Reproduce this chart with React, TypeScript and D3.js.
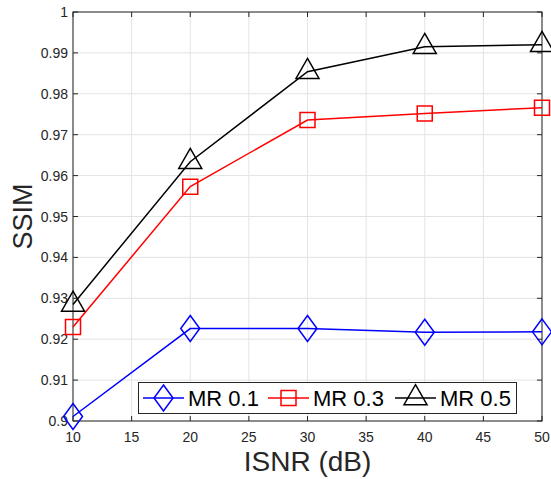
import React, { useEffect, useRef } from "react";
import * as d3 from "d3";

const isnr = [10, 20, 30, 40, 50];
const mr01 = [0.9011, 0.9226, 0.9226, 0.9217, 0.9218];
const mr03 = [0.923, 0.9573, 0.9736, 0.9752, 0.9766];
const mr05 = [0.9285, 0.9634, 0.9854, 0.9915, 0.992];
const seriesNames = ["MR 0.1", "MR 0.3", "MR 0.5"];
const xTicks = [10, 15, 20, 25, 30, 35, 40, 45, 50];
const yTicks = [0.9, 0.91, 0.92, 0.93, 0.94, 0.95, 0.96, 0.97, 0.98, 0.99, 1];

const W = 551;
const H = 479;
const margin = { top: 12, right: 9, bottom: 58, left: 73 };
const FONT = "'Liberation Sans', Arial, Helvetica, sans-serif";
const AX = "#262626";

// marker path drawers, centred on (0,0)
const markerPath = (kind: string) => {
  if (kind === "diamond") return "M0,-13L9.5,0L0,13L-9.5,0Z";
  if (kind === "square") return "M-7.5,-7.5H7.5V7.5H-7.5Z";
  return "M0,-13.3L11.5,6.7L-11.5,6.7Z";
};

export default function App() {
  const svgRef = useRef<SVGSVGElement>(null);

  useEffect(() => {
    const svg = d3.select(svgRef.current);
    svg.selectAll("*").remove();

    const x0 = margin.left;
    const x1 = W - margin.right;
    const y0 = H - margin.bottom;
    const y1 = margin.top;

    const x = d3.scaleLinear().domain([10, 50]).range([x0, x1]);
    const y = d3.scaleLinear().domain([0.9, 1]).range([y0, y1]);

    svg.append("rect").attr("width", W).attr("height", H).attr("fill", "#fff");

    // grid
    const grid = svg.append("g").attr("stroke", "#e3e3e3").attr("stroke-width", 1);
    xTicks.forEach((t) => {
      grid.append("line").attr("x1", x(t)).attr("x2", x(t)).attr("y1", y0).attr("y2", y1);
    });
    yTicks.forEach((t) => {
      grid.append("line").attr("x1", x0).attr("x2", x1).attr("y1", y(t)).attr("y2", y(t));
    });

    // box + inward ticks
    const axes = svg.append("g").attr("stroke", AX).attr("stroke-width", 1).attr("fill", "none");
    axes.append("rect").attr("x", x0).attr("y", y1).attr("width", x1 - x0).attr("height", y0 - y1);
    xTicks.forEach((t) => {
      axes.append("line").attr("x1", x(t)).attr("x2", x(t)).attr("y1", y0).attr("y2", y0 - 5);
      axes.append("line").attr("x1", x(t)).attr("x2", x(t)).attr("y1", y1).attr("y2", y1 + 5);
    });
    yTicks.forEach((t) => {
      axes.append("line").attr("x1", x0).attr("x2", x0 + 5).attr("y1", y(t)).attr("y2", y(t));
      axes.append("line").attr("x1", x1).attr("x2", x1 - 5).attr("y1", y(t)).attr("y2", y(t));
    });

    // tick labels
    svg
      .append("g")
      .selectAll("text")
      .data(xTicks)
      .join("text")
      .attr("x", (d) => x(d))
      .attr("y", y0 + 21)
      .attr("text-anchor", "middle")
      .attr("font-family", FONT)
      .attr("font-size", 14)
      .attr("fill", AX)
      .text((d) => d);

    svg
      .append("g")
      .selectAll("text")
      .data(yTicks)
      .join("text")
      .attr("x", x0 - 5)
      .attr("y", (d) => y(d) + 5)
      .attr("text-anchor", "end")
      .attr("font-family", FONT)
      .attr("font-size", 14)
      .attr("fill", AX)
      .text((d) => d3.format("")(+d.toFixed(2)));

    // axis titles
    svg
      .append("text")
      .attr("x", (x0 + x1) / 2)
      .attr("y", 471)
      .attr("text-anchor", "middle")
      .attr("font-family", FONT)
      .attr("font-size", 28)
      .attr("fill", AX)
      .text("ISNR (dB)");

    svg
      .append("text")
      .attr("transform", `translate(32,${(y0 + y1) / 2}) rotate(-90)`)
      .attr("text-anchor", "middle")
      .attr("font-family", FONT)
      .attr("font-size", 27)
      .attr("fill", AX)
      .text("SSIM");

    // series
    const series = [
      { name: seriesNames[0], values: mr01, color: "#0000ff", marker: "diamond" },
      { name: seriesNames[1], values: mr03, color: "#ff0000", marker: "square" },
      { name: seriesNames[2], values: mr05, color: "#000000", marker: "triangle" },
    ];

    const line = d3
      .line<number>()
      .x((_, i) => x(isnr[i]))
      .y((d) => y(d));

    series.forEach((s) => {
      const g = svg.append("g");
      g.append("path")
        .attr("d", line(s.values))
        .attr("fill", "none")
        .attr("stroke", s.color)
        .attr("stroke-width", 1.5);
      g.selectAll("path.m")
        .data(s.values)
        .join("path")
        .attr("class", "m")
        .attr("d", markerPath(s.marker))
        .attr("transform", (d, i) => `translate(${x(isnr[i])},${y(d)})`)
        .attr("fill", "none")
        .attr("stroke", s.color)
        .attr("stroke-width", 1.5);
    });

    // legend
    const lg = svg.append("g");
    lg.append("rect")
      .attr("x", 138.5)
      .attr("y", 382.5)
      .attr("width", 378)
      .attr("height", 31)
      .attr("fill", "#fff")
      .attr("stroke", AX)
      .attr("stroke-width", 1);
    const itemX = [143, 268, 395];
    series.forEach((s, i) => {
      const ix = itemX[i];
      const cy = 398;
      lg.append("line")
        .attr("x1", ix)
        .attr("x2", ix + 41)
        .attr("y1", cy)
        .attr("y2", cy)
        .attr("stroke", s.color)
        .attr("stroke-width", 1.5);
      lg.append("path")
        .attr("d", markerPath(s.marker))
        .attr("transform", `translate(${ix + 20.5},${cy})`)
        .attr("fill", "none")
        .attr("stroke", s.color)
        .attr("stroke-width", 1.5);
      lg.append("text")
        .attr("x", ix + 45)
        .attr("y", 406)
        .attr("font-family", FONT)
        .attr("font-size", 22)
        .attr("fill", "#000")
        .text(s.name);
    });
  }, []);

  return (
    <svg
      ref={svgRef}
      width={W}
      height={H}
      style={{ position: "absolute", left: 0, top: 0, display: "block" }}
    />
  );
}
